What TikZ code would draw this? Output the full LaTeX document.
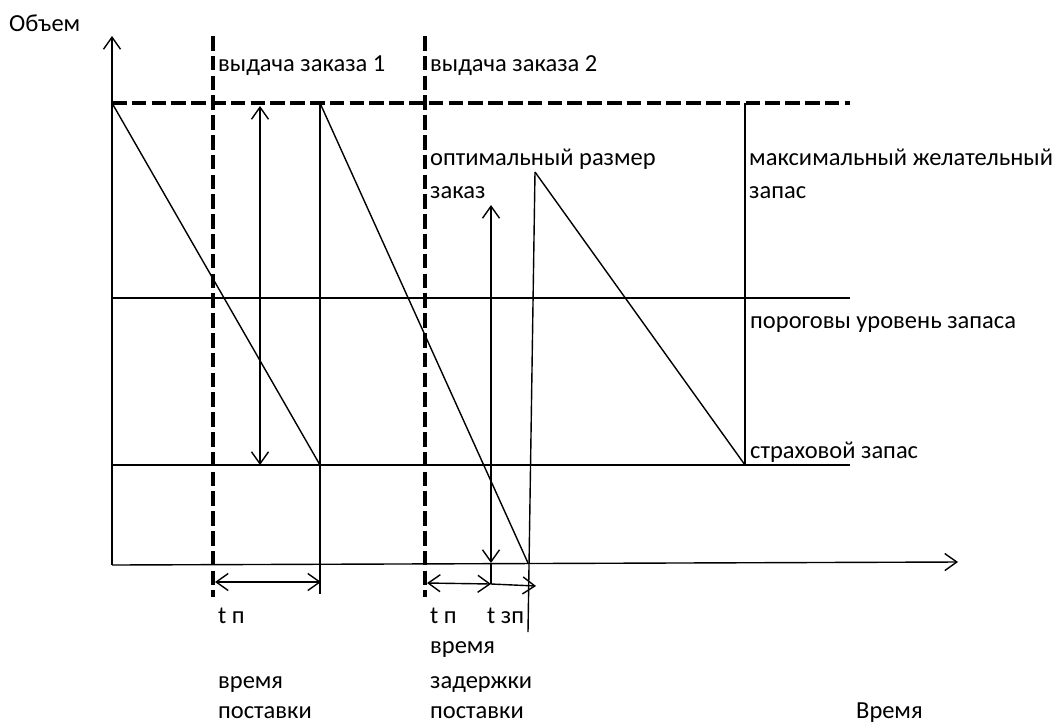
\documentclass[tikz,border=0pt]{standalone}
\usepackage{fontspec}
\setmainfont{Carlito}
\usetikzlibrary{arrows.meta}
\tikzset{
  axisline/.style={line width=1.4pt, black},
  thickdash/.style={line width=3.9pt, black, dash pattern=on 14.5pt off 5.3pt},
  tip/.style={-{Straight Barb[length=12pt,width=17pt,line width=1.4pt]}},
  bitip/.style={{Straight Barb[length=12pt,width=17pt,line width=1.4pt]}-{Straight Barb[length=12pt,width=17pt,line width=1.4pt]}},
  lbl/.style={anchor=base west, inner sep=0pt, font=\fontsize{24.5}{33}\selectfont},
}
\begin{document}
\begin{tikzpicture}[x=1pt,y=-1pt]
\useasboundingbox (0,0) rectangle (1059,724);
% coordinates
\coordinate (O) at (112,565);
\coordinate (Ytop) at (112,36);
\coordinate (Xend) at (958,562);
\coordinate (D1t) at (213,36);
\coordinate (D1b) at (213,597);
\coordinate (D2t) at (425,36);
\coordinate (D2b) at (425,597);
\coordinate (Hl) at (112,103);
\coordinate (Hr) at (850,103);
\coordinate (Tl) at (112,298);
\coordinate (Tr) at (850,298);
\coordinate (Sl) at (112,465);
\coordinate (Sr) at (850,465);
\coordinate (A1) at (320,465);
\coordinate (A1t) at (320,103);
\coordinate (A1b) at (320,594);
\coordinate (B1) at (528,563);
\coordinate (B1b) at (528,632);
\coordinate (P2) at (535,172);
\coordinate (C2) at (745,465);
\coordinate (C2t) at (745,103);
\coordinate (Qt) at (260,106);
\coordinate (Qb) at (260,465);
\coordinate (Rt) at (491,205);
\coordinate (Rb) at (491,563);
\coordinate (Rj) at (491,584);
\coordinate (E1l) at (215,582);
\coordinate (E1r) at (321,582);
\coordinate (E2l) at (427,583);
\coordinate (E3r) at (536,586);

% axes
\draw[axisline,tip] (O) -- (Ytop);
\draw[axisline,tip] (O) -- (Xend);
% dashed lines
\draw[thickdash] (D1t) -- (D1b);
\draw[thickdash] (D2t) -- (D2b);
\draw[thickdash] (Hl) -- (Hr);
% level lines
\draw[axisline] (Tl) -- (Tr);
\draw[axisline] (Sl) -- (Sr);
% sawtooth
\draw[axisline] (Hl) -- (A1);
\draw[axisline] (A1t) -- (A1b);
\draw[axisline] (A1t) -- (B1);
\draw[axisline] (B1b) -- (P2);
\draw[axisline] (P2) -- (C2);
\draw[axisline] (C2t) -- (C2);
% arrows
\draw[axisline,bitip] (Qt) -- (Qb);
\draw[axisline,bitip] (Rt) -- (Rb);
\draw[axisline] (Rb) -- (Rj);
\draw[axisline,bitip] (E1l) -- (E1r);
\draw[axisline,bitip] (E2l) -- (Rj);
\draw[axisline,tip] (Rj) -- (E3r);

% labels
\node[lbl] (ob) at (9,31) {Объем};
\node[lbl] (z1) at (218,71) {выдача заказа 1};
\node[lbl] (z2) at (430,71) {выдача заказа 2};
\node[lbl] (opt1) at (430,165) {оптимальный размер};
\node[lbl] (opt2) at (430,198) {заказ};
\node[lbl] (max1) at (749,165) {максимальный желательный};
\node[lbl] (max2) at (749,198) {запас};
\node[lbl] (por) at (750,328) {пороговы уровень запаса};
\node[lbl] (str) at (750,458) {страховой запас};
\node[lbl] (tp1) at (218,623) {t п};
\node[lbl] (vr1) at (218,688) {время};
\node[lbl] (ps1) at (218,718) {поставки};
\node[lbl] (tp2) at (430,623) {t п};
\node[lbl] (tzp) at (487,623) {t зп};
\node[lbl] (vr2) at (430,653) {время};
\node[lbl] (zd2) at (430,688) {задержки};
\node[lbl] (ps2) at (430,718) {поставки};
\node[lbl] (vrem) at (856,718) {Время};
\end{tikzpicture}
\end{document}
